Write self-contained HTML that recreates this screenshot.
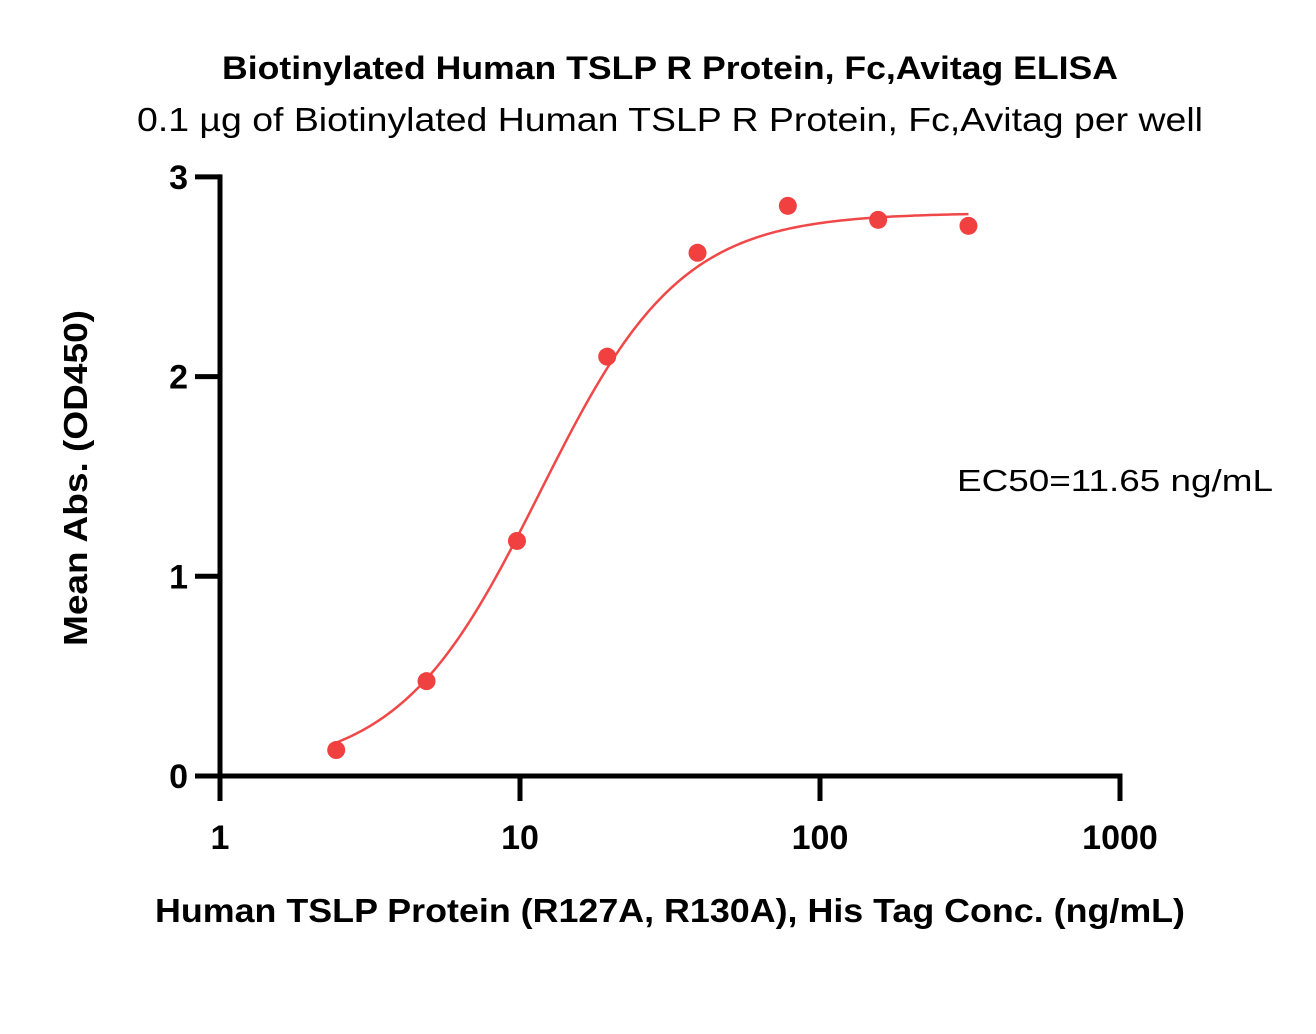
<!DOCTYPE html>
<html><head><meta charset="utf-8"><style>
body{margin:0;background:#fff;}
svg text{font-family:"Liberation Sans",sans-serif;}
</style></head><body>
<svg width="1316" height="1029" viewBox="0 0 1316 1029">
<text x="222" y="79" textLength="896" lengthAdjust="spacingAndGlyphs" font-size="32" font-weight="bold">Biotinylated Human TSLP R Protein, Fc,Avitag ELISA</text>
<text x="137" y="131" textLength="1066" lengthAdjust="spacingAndGlyphs" font-size="33">0.1 µg of Biotinylated Human TSLP R Protein, Fc,Avitag per well</text>
<text x="957" y="491" textLength="316" lengthAdjust="spacingAndGlyphs" font-size="31">EC50=11.65 ng/mL</text>
<text transform="translate(87,478) rotate(-90)" text-anchor="middle" textLength="336" lengthAdjust="spacingAndGlyphs" font-size="33" font-weight="bold">Mean Abs. (OD450)</text>
<text x="155" y="922" textLength="1030" lengthAdjust="spacingAndGlyphs" font-size="33" font-weight="bold">Human TSLP Protein (R127A, R130A), His Tag Conc. (ng/mL)</text>
<g id="axes"></g>
<g id="plot"></g>
</svg>
<script>
const concs=[2.44,4.88,9.77,19.53,39.06,78.13,156.25,312.5];
const values=[0.13,0.475,1.177,2.10,2.62,2.855,2.785,2.755];
const xTicks=[1,10,100,1000];
const yTicks=[0,1,2,3];
const fitBottom=0.02, fitTop=2.82, fitEC50=11.65, fitHill=1.85;
const NS="http://www.w3.org/2000/svg";
const X=v=>220+300*Math.log10(v);
const Y=v=>776-199.7*v;
function mk(tag,attrs,parent){const e=document.createElementNS(NS,tag);for(const k in attrs)e.setAttribute(k,attrs[k]);parent.appendChild(e);return e;}
const ax=document.getElementById('axes'), pl=document.getElementById('plot');
let l=mk('line',{x1:220,y1:Y(3)-2.5,x2:220,y2:778.5,stroke:'#000','stroke-width':5},ax);


l=mk('line',{x1:217.5,y1:776,x2:1122.5,y2:776,stroke:'#000','stroke-width':5},ax);


yTicks.forEach(t=>{
 const tk=mk('line',{x1:195,y1:Y(t),x2:220,y2:Y(t),stroke:'#000','stroke-width':5},ax);
 
 
 const tx=mk('text',{x:188,y:Y(t)+12,'text-anchor':'end','font-size':34,'font-weight':'bold'},ax);
 tx.textContent=t;
 
 
});
xTicks.forEach(t=>{
 const tk=mk('line',{x1:X(t),y1:776,x2:X(t),y2:801,stroke:'#000','stroke-width':5},ax);
 
 
 const tx=mk('text',{x:X(t),y:849,'text-anchor':'middle','font-size':34,'font-weight':'bold'},ax);
 tx.textContent=t;
 
 
});
const f=c=>fitBottom+(fitTop-fitBottom)/(1+Math.pow(fitEC50/c,fitHill));
let d='';
const a=Math.log10(concs[0]), b=Math.log10(concs[concs.length-1]);
for(let i=0;i<=200;i++){const c=Math.pow(10,a+(b-a)*i/200);d+=(i?'L':'M')+X(c).toFixed(2)+','+Y(f(c)).toFixed(2);}
const p=mk('path',{d:d,fill:'none',stroke:'#f04848','stroke-width':2.5},pl);


concs.forEach((c,i)=>{
 const pt=mk('circle',{cx:X(c),cy:Y(values[i]),r:9,fill:'#f04040'},pl);
 
 
});
</script>
</body></html>
